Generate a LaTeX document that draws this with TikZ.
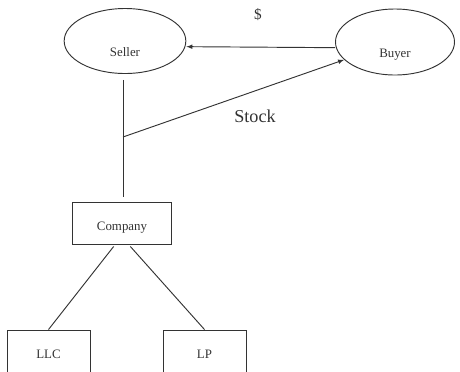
\documentclass[tikz,border=0pt]{standalone}
\usepackage{fontspec}
\setmainfont{Liberation Serif}
\usepackage{tikz}
\usetikzlibrary{shapes.geometric, arrows.meta, positioning, calc}

\begin{document}
\begin{tikzpicture}[
    line width=0.8pt, color=black!80,
    party/.style={draw, ellipse, minimum width=3.65cm, minimum height=1.95cm, inner sep=0pt, text height=0.93cm, text depth=0pt, font=\fontsize{11}{13}\selectfont},
    entity/.style={draw, rectangle, minimum height=1.26cm, inner sep=0pt, text height=0.42cm, text depth=0pt, font=\fontsize{11}{13}\selectfont},
    edge/.style={->, >=latex}
]
    \clip (0,0) rectangle (13.8,-11.13);

    \node[party] (seller) at (3.75,-1.23) {Seller};
    \node[party, minimum width=3.57cm, minimum height=1.98cm] (buyer) at (11.85,-1.26) {Buyer};

    \node[entity, minimum width=2.97cm] (company) at (3.66,-6.69) {Company};
    \node[entity, minimum width=2.49cm] (llc) at (1.455,-10.53) {LLC};
    \node[entity, minimum width=2.49cm] (lp) at (6.135,-10.53) {LP};

    % payment and share transfer
    \draw[edge] ([yshift=-0.17cm]buyer.west) -- ([yshift=-0.17cm]seller.east);
    \node[font=\fontsize{13}{15}\selectfont] (dollar) at (7.74,-0.45) {\$};

    \coordinate (split) at (3.69,-4.11);
    \draw[shorten <=0.18cm, shorten >=0.15cm] (seller.south -| split) -- (company.north -| split);
    \draw[edge] (split) -- (buyer);
    \node[font=\fontsize{15.5}{18}\selectfont] (stock) at (7.65,-3.48) {Stock};

    % subsidiaries
    \draw ([xshift=-0.25cm, yshift=-0.06cm]company.south) -- (llc.north);
    \draw ([xshift=0.25cm, yshift=-0.06cm]company.south) -- (lp.north);

\end{tikzpicture}
\end{document}
